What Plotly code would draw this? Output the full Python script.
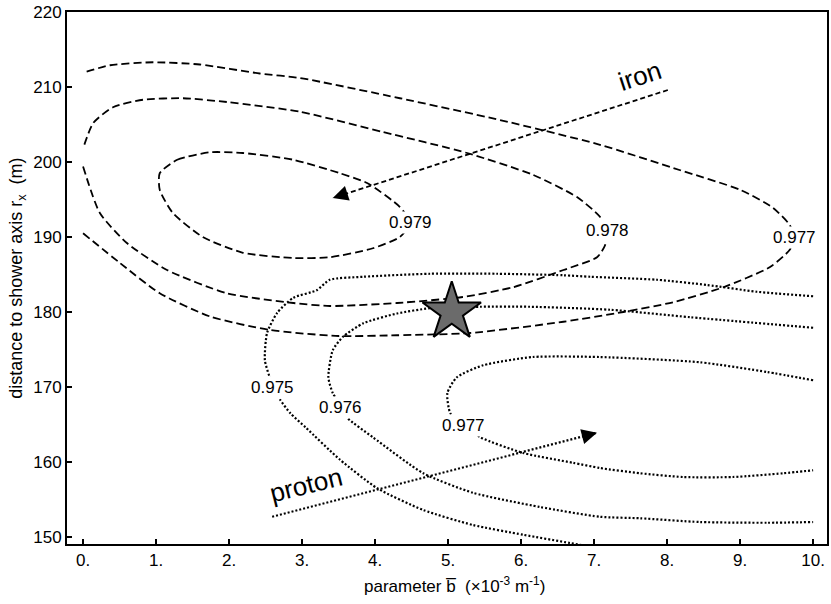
import plotly.graph_objects as go

# ---------------- data ----------------
# iron contours (dashed)
iron_0977_x = [0, 0.51, 1.05, 1.74, 2.56, 3.5, 4.3, 5.3, 6.58, 7.4, 8.08, 8.77, 9.41, 9.68, 9.74,
               9.68, 9.45, 9.0, 8.18, 7.08, 5.71, 4.34, 2.97, 2.42, 1.6, 0.96, 0.37, 0]
iron_0977_y = [190.5, 186.5, 182.5, 179.4, 177.6, 176.8, 176.9, 177.2, 178.7, 180, 181.3, 183.3, 186, 188.3, 189.9,
               191.6, 193.9, 196.3, 198.9, 202.3, 205.6, 208.5, 211.2, 211.8, 213.0, 213.3, 212.9, 211.9]

iron_0978_x = [0, 0.23, 0.6, 1.15, 1.97, 2.88, 3.38, 4.3, 5.2, 5.89, 6.58, 7.04, 7.15, 7.17,
               7.08, 6.77, 6.16, 5.26, 4.11, 2.97, 1.97, 1.37, 0.82, 0.41, 0.14, 0]
iron_0978_y = [199.4, 193.2, 189.2, 185.6, 182.5, 181.2, 180.8, 181.2, 182, 183.3, 185.6, 187.3, 188.9, 190.9,
               192.7, 195.3, 198.3, 201.2, 204, 206.7, 208, 208.5, 208.3, 207.3, 205.2, 201.8]

iron_0979_x = [1.05, 1.29, 1.74, 2.19, 2.88, 3.52, 3.89, 4.34, 4.48, 4.34, 3.97, 3.38, 2.88, 2.19, 1.64, 1.23, 1.05, 1.05]
iron_0979_y = [198.5, 200.3, 201.3, 201.2, 200.3, 198.5, 197.2, 194, 191.9, 190, 188.5, 187.3, 187.2, 187.9, 190, 193.2, 196.3, 198.5]

# proton contours (dotted)
proton_0975_x = [10, 9.23, 8.55, 7.86, 6.95, 6.58, 5.67, 4.75, 3.84, 3.38, 3.2, 2.88, 2.66, 2.52, 2.49, 2.55,
                 2.63, 2.7, 2.84, 3.05, 3.52, 4.03, 4.66, 5.34, 6.03, 6.67, 6.9]
proton_0975_y = [182.1, 182.7, 183.6, 184.3, 184.7, 184.9, 185.1, 185.1, 184.7, 184.3, 182.9, 181.9, 179.9, 177.2, 173.6, 171.5,
                 169.9, 168.3, 166.5, 164.6, 160.3, 156.5, 153.6, 151.6, 150.3, 149.2, 148.8]

proton_0976_x = [10, 8.32, 7.22, 6.12, 5.44, 4.75, 4.3, 3.84, 3.56, 3.42, 3.36, 3.42, 3.55, 3.62, 3.97, 4.66,
                 5.34, 6.26, 7.08, 7.63, 8.45, 9.37, 10]
proton_0976_y = [177.9, 179.3, 180.3, 180.7, 180.7, 180.5, 179.8, 178.5, 176.7, 174.9, 171.3, 169.2, 167.3, 165.9, 163.3, 158.5,
                 155.9, 154, 152.7, 152.5, 152, 151.9, 152]

proton_0977_x = [10, 9.37, 8.45, 7.08, 6.16, 5.48, 5.12, 4.99, 5.03, 5.21, 5.44, 6.03, 6.71, 7.08, 7.63, 8.22, 8.9, 9.59, 10]
proton_0977_y = [170.9, 172, 173.3, 174, 174, 172.9, 171.3, 169.2, 166.5, 164.9, 163.3, 161.2, 159.9, 159.2, 158.5, 158, 158, 158.5, 158.9]

# contour labels
label_text = ["0.979", "0.978", "0.977", "0.975", "0.976", "0.977"]
label_x = [4.48, 7.19, 9.75, 2.6, 3.53, 5.21]
label_y = [191.9, 190.9, 189.9, 169.9, 167.3, 164.9]

# best fit (star)
best_x = [5.05]
best_y = [180.0]

# composition arrows (start, tip)
iron_arrow_x = [8.01, 3.42]
iron_arrow_y = [209.6, 195.2]
proton_arrow_x = [2.59, 7.04]
proton_arrow_y = [152.7, 163.9]

x_ticks = [0, 1, 2, 3, 4, 5, 6, 7, 8, 9, 10]
x_ticktext = ["0.", "1.", "2.", "3.", "4.", "5.", "6.", "7.", "8.", "9.", "10."]
y_ticks = [150, 160, 170, 180, 190, 200, 210, 220]

# ---------------- figure ----------------
FONT = "Liberation Sans, Arial, Helvetica, sans-serif"
DASH = "8px,4px"
DOT = "2px,2px"

fig = go.Figure()

for xs, ys in [(iron_0977_x, iron_0977_y), (iron_0978_x, iron_0978_y), (iron_0979_x, iron_0979_y)]:
    fig.add_trace(go.Scatter(x=xs, y=ys, mode="lines",
                             line=dict(color="black", width=1.8, dash=DASH, shape="spline", smoothing=0.6),
                             hoverinfo="skip", showlegend=False))

for xs, ys in [(proton_0975_x, proton_0975_y), (proton_0976_x, proton_0976_y), (proton_0977_x, proton_0977_y)]:
    fig.add_trace(go.Scatter(x=xs, y=ys, mode="lines",
                             line=dict(color="black", width=2.2, dash=DOT, shape="spline", smoothing=0.6),
                             hoverinfo="skip", showlegend=False))

# arrow shafts
fig.add_trace(go.Scatter(x=iron_arrow_x, y=iron_arrow_y, mode="lines",
                         line=dict(color="black", width=1.8, dash="5px,3px"),
                         hoverinfo="skip", showlegend=False))
fig.add_trace(go.Scatter(x=proton_arrow_x, y=proton_arrow_y, mode="lines",
                         line=dict(color="black", width=2.2, dash=DOT),
                         hoverinfo="skip", showlegend=False))

# arrow heads (barbed annotation heads, very short hidden shaft)
for ax_, ay_ in [(iron_arrow_x, iron_arrow_y), (proton_arrow_x, proton_arrow_y)]:
    tx, ty = ax_[1], ay_[1]
    bx = tx + 0.02 * (ax_[0] - ax_[1])
    by = ty + 0.02 * (ay_[0] - ay_[1])
    fig.add_annotation(x=tx, y=ty, ax=bx, ay=by, xref="x", yref="y", axref="x", ayref="y",
                       text="", showarrow=True, arrowhead=2, arrowsize=1.7, arrowwidth=1.8,
                       arrowcolor="black", standoff=0, startstandoff=0)

# star
fig.add_trace(go.Scatter(x=best_x, y=best_y, mode="markers",
                         marker=dict(symbol="star", size=44, color="#6b6b6b", line=dict(color="black", width=2)),
                         hoverinfo="skip", showlegend=False))

for t, x, y in zip(label_text, label_x, label_y):
    fig.add_annotation(x=x, y=y, text=t, showarrow=False, bgcolor="white", borderpad=1,
                       font=dict(family=FONT, size=17, color="black"))

fig.add_annotation(x=7.62, y=211.5, text="iron", showarrow=False, textangle=-18,
                   font=dict(family=FONT, size=26, color="black"))
fig.add_annotation(x=3.05, y=157.0, text="proton", showarrow=False, textangle=-14,
                   font=dict(family=FONT, size=26, color="black"))

# axis titles
fig.add_annotation(xref="paper", yref="paper", x=-0.066, y=0.5, xanchor="center", yanchor="middle",
                   text="distance to shower axis r<sub>x</sub>  (m)", textangle=-90, showarrow=False,
                   font=dict(family=FONT, size=18, color="black"))
fig.add_annotation(xref="paper", yref="paper", x=0.51, y=-0.077, xanchor="center", yanchor="middle",
                   text="parameter b\u0305  (×10<sup>-3</sup> m<sup>-1</sup>)", showarrow=False,
                   font=dict(family=FONT, size=17, color="black"))

fig.update_layout(
    width=831, height=604,
    margin=dict(l=67, r=4, t=12, b=60),
    paper_bgcolor="white", plot_bgcolor="white",
    font=dict(family=FONT, size=17, color="black"),
    xaxis=dict(range=[-0.22, 10.19], tickvals=x_ticks, ticktext=x_ticktext, ticks="inside", ticklen=5,
               tickwidth=1.5, tickcolor="black", showgrid=False, zeroline=False, automargin=False,
               showline=True, linecolor="black", linewidth=2, mirror=True,
               tickfont=dict(size=17)),
    yaxis=dict(range=[149.07, 220], tickvals=y_ticks, ticks="inside", ticklen=5,
               tickwidth=1.5, tickcolor="black", showgrid=False, zeroline=False, automargin=False,
               showline=True, linecolor="black", linewidth=2, mirror=True,
               tickfont=dict(size=17)),
)

fig.write_html("out.html", config={"displayModeBar": False},
               post_script="document.body.style.margin='0px';")
